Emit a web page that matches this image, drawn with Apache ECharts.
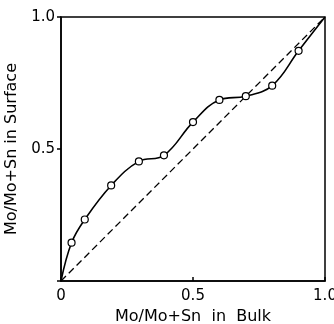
<!DOCTYPE html>
<html>
<head>
<meta charset="utf-8">
<script src="https://cdn.jsdelivr.net/npm/echarts@6/dist/echarts.min.js"></script>
<style>
  html, body { margin: 0; padding: 0; background: #fff; }
  #chart { width: 334px; height: 324px; }
</style>
</head>
<body>
<div id="chart"></div>
<script>
// bulk fraction vs surface fraction (open circles)
const bulk = [0.04, 0.09, 0.19, 0.295, 0.39, 0.5, 0.6, 0.7, 0.8, 0.9]
const surface = [0.145, 0.233, 0.362, 0.453, 0.476, 0.602, 0.686, 0.70, 0.74, 0.872]
// curve is anchored at both corners
const curveStart = [0, 0]
const curveEnd = [1, 1]
// reference diagonal (surface = bulk)
const diagonal = [[0, 0], [1, 1]]

const font = 'DejaVu Sans'

let curve = [{value: curveStart, symbol: 'none'}]
bulk.forEach((x, i) => curve.push({value: [x, surface[i]]}))
curve.push({value: curveEnd, symbol: 'none'})

const chart = echarts.init(document.getElementById('chart'))
chart.setOption({
  animation: false,
  backgroundColor: '#fff',
  grid: {
    left: 61, right: 9, top: 17, bottom: 43,
    outerBoundsMode: 'none',
    containLabel: false,
    show: true,
    borderColor: '#000',
    borderWidth: 1.5
  },
  xAxis: {
    type: 'value',
    min: 0, max: 1, interval: 0.5,
    name: 'Mo/Mo+Sn  in  Bulk',
    nameLocation: 'middle',
    nameGap: 26,
    nameTextStyle: {fontFamily: font, fontSize: 16, color: '#000'},
    axisLine: {lineStyle: {color: '#000', width: 1.5}},
    axisTick: {inside: true, length: 4, lineStyle: {color: '#000', width: 1.5}},
    axisLabel: {
      margin: 8, fontFamily: font, fontSize: 15, color: '#000',
      formatter: v => (v === 0 ? '0' : v.toFixed(1))
    },
    splitLine: {show: false}
  },
  yAxis: {
    type: 'value',
    min: 0, max: 1, interval: 0.5,
    name: 'Mo/Mo+Sn in Surface',
    nameLocation: 'middle',
    nameGap: 38,
    nameTextStyle: {fontFamily: font, fontSize: 16, color: '#000'},
    axisLine: {lineStyle: {color: '#000', width: 1.5}},
    axisTick: {inside: false, length: 4, lineStyle: {color: '#000', width: 1.5}},
    axisLabel: {
      margin: 6, fontFamily: font, fontSize: 15, color: '#000',
      formatter: v => (v === 0 ? '' : v.toFixed(1))
    },
    splitLine: {show: false}
  },
  series: [
    {
      type: 'line',
      data: diagonal,
      symbol: 'none',
      lineStyle: {color: '#000', width: 1.3, type: [7, 4]},
      z: 1
    },
    {
      type: 'line',
      data: curve,
      smooth: 0.4,
      symbol: 'circle',
      symbolSize: 7,
      itemStyle: {color: '#fff', borderColor: '#000', borderWidth: 1.2},
      lineStyle: {color: '#000', width: 1.6},
      z: 2
    }
  ]
})
</script>
</body>
</html>
